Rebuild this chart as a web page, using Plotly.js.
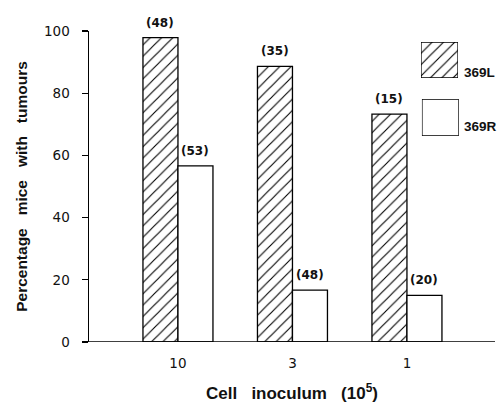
<!DOCTYPE html>
<html>
<head>
<meta charset="utf-8">
<script src="https://cdn.plot.ly/plotly-3.0.1.min.js"></script>
<style>html,body{margin:0;padding:0;background:#fff;}#chart{width:499px;height:403px;}</style>
</head>
<body>
<div id="chart"></div>
<script>
// Data
const categories = ['10', '3', '1'];
const seriesNames = ['369L', '369R'];
const values369L = [97.9, 88.6, 73.3];
const values369R = [56.6, 16.7, 15.0];
const n369L = [48, 35, 15];
const n369R = [53, 48, 20];
const yTicks = [0, 20, 40, 60, 80, 100];

const FONT = 'Liberation Sans, Arial, Helvetica, sans-serif';
const TFONT = 'DejaVu Sans, sans-serif';
const SP = '\u00a0\u00a0\u00a0';
const pattern = {shape: '/', fgcolor: '#000', bgcolor: '#fff', size: 8, solidity: 0.14, fillmode: 'replace'};

const traces = [
  {type: 'bar', name: seriesNames[0], x: categories, y: values369L,
   marker: {color: '#fff', pattern: pattern, line: {color: '#000', width: 1.3}},
   showlegend: false, hoverinfo: 'skip'},
  {type: 'bar', name: seriesNames[1], x: categories, y: values369R,
   marker: {color: '#fff', line: {color: '#000', width: 1.3}},
   showlegend: false, hoverinfo: 'skip'},
  // legend swatches
  {type: 'bar', x: [0], y: [1], width: [1], xaxis: 'x2', yaxis: 'y2',
   marker: {color: '#fff', pattern: pattern, line: {color: '#000', width: 1.3}},
   showlegend: false, hoverinfo: 'skip'},
  {type: 'bar', x: [0], y: [1], width: [1], xaxis: 'x3', yaxis: 'y3',
   marker: {color: '#fff', line: {color: '#000', width: 1.3}},
   showlegend: false, hoverinfo: 'skip'}
];

const barW = 0.3057;
const cntFont = {family: TFONT, size: 12, color: '#111', weight: 'bold'};
const annotations = [];
categories.forEach((c, i) => {
  annotations.push({x: i - barW / 2, y: values369L[i], xref: 'x', yref: 'y', text: '(' + n369L[i] + ')',
    showarrow: false, yanchor: 'bottom', yshift: 6, font: cntFont});
  annotations.push({x: i + barW / 2, y: values369R[i], xref: 'x', yref: 'y', text: '(' + n369R[i] + ')',
    showarrow: false, yanchor: 'bottom', yshift: 6, font: cntFont});
});
const legFont = {family: FONT, size: 13.5, color: '#111', weight: 'bold'};
annotations.push({x: 0.918, y: 0.868, xref: 'paper', yref: 'paper', text: seriesNames[0], showarrow: false,
  xanchor: 'left', yanchor: 'middle', font: legFont});
annotations.push({x: 0.918, y: 0.693, xref: 'paper', yref: 'paper', text: seriesNames[1], showarrow: false,
  xanchor: 'left', yanchor: 'middle', font: legFont});

const hiddenAxis = {visible: false, fixedrange: true};

const layout = {
  width: 499, height: 403,
  margin: {l: 89, r: 4, t: 31, b: 61},
  paper_bgcolor: '#fff', plot_bgcolor: '#fff',
  barmode: 'group', bargap: 1 - 2 * barW, bargroupgap: 0,
  font: {family: FONT, color: '#111', size: 13},
  xaxis: {
    type: 'category', range: [-0.777, 2.769],
    showline: false, ticks: '', showgrid: false, zeroline: false,
    tickfont: {family: TFONT, size: 13.5, color: '#111'},
    ticklabelstandoff: 11,
    title: {text: 'Cell' + SP + 'inoculum' + SP + '(10<sup>5</sup>)', font: {family: FONT, size: 17, color: '#111', weight: 'bold'}, standoff: 17}
  },
  yaxis: {
    range: [0, 100], tickvals: yTicks, ticktext: yTicks.map(String),
    showline: true, linecolor: '#000', linewidth: 1.5,
    ticks: 'outside', ticklen: 6, tickwidth: 1.3, tickcolor: '#000',
    showgrid: false, zeroline: false,
    tickfont: {family: TFONT, size: 13.5, color: '#111'},
    ticklabelstandoff: 9,
    title: {text: 'Percentage' + SP + 'mice' + SP + 'with' + SP + 'tumours', font: {family: FONT, size: 15.5, color: '#111', weight: 'bold'}, standoff: 12}
  },
  xaxis2: Object.assign({domain: [0.8177, 0.9089], range: [-0.5, 0.5], anchor: 'y2'}, hiddenAxis),
  yaxis2: Object.assign({domain: [0.8489, 0.9646], range: [0, 1], anchor: 'x2'}, hiddenAxis),
  xaxis3: Object.assign({domain: [0.820, 0.911], range: [-0.5, 0.5], anchor: 'y3'}, hiddenAxis),
  yaxis3: Object.assign({domain: [0.6624, 0.7814], range: [0, 1], anchor: 'x3'}, hiddenAxis),
  shapes: [
    {type: 'line', xref: 'paper', yref: 'y', x0: -0.016, x1: 1, y0: 0, y1: 0, line: {color: '#000', width: 1.5}}
  ],
  annotations: annotations
};

Plotly.newPlot('chart', traces, layout, {displayModeBar: false, staticPlot: true});
</script>
</body>
</html>
